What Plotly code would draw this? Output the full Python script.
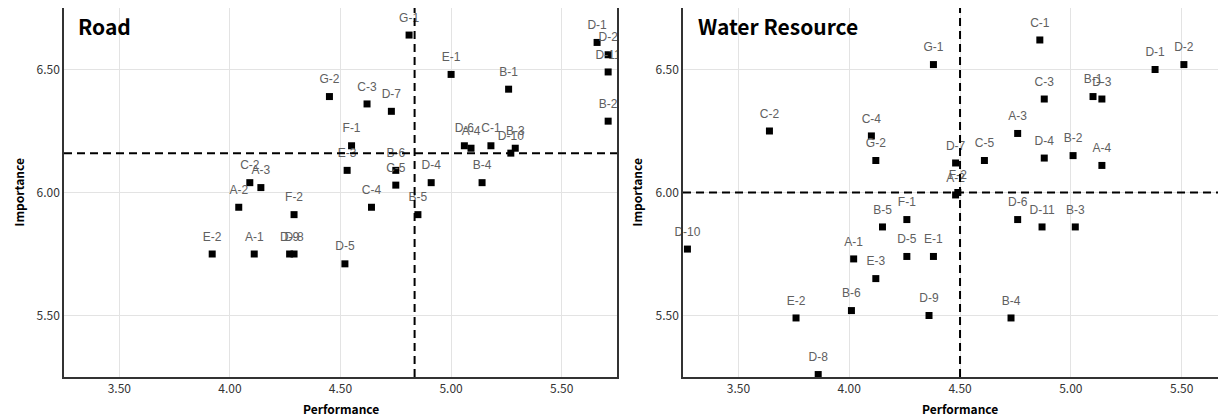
import plotly.graph_objects as go

# ---------------- Road ----------------
road_labels = ["A-1", "A-2", "A-3", "A-4",
               "B-1", "B-2", "B-3", "B-4", "B-5", "B-6",
               "C-1", "C-2", "C-3", "C-4", "C-5",
               "D-1", "D-2", "D-4", "D-5", "D-6", "D-7", "D-8", "D-9", "D-10", "D-11",
               "E-1", "E-2", "E-3", "F-1", "F-2", "G-1", "G-2"]
road_perf = [4.11, 4.04, 4.14, 5.09,
             5.26, 5.71, 5.29, 5.14, 4.85, 4.75,
             5.18, 4.09, 4.62, 4.64, 4.75,
             5.66, 5.71, 4.91, 4.52, 5.06, 4.73, 4.29, 4.27, 5.27, 5.71,
             5.00, 3.92, 4.53, 4.55, 4.29, 4.81, 4.45]
road_imp = [5.75, 5.94, 6.02, 6.18,
            6.42, 6.29, 6.18, 6.04, 5.91, 6.09,
            6.19, 6.04, 6.36, 5.94, 6.03,
            6.61, 6.56, 6.04, 5.71, 6.19, 6.33, 5.75, 5.75, 6.16, 6.49,
            6.48, 5.75, 6.09, 6.19, 5.91, 6.64, 6.39]
road_mean_perf = 4.835
road_mean_imp = 6.16

# ---------------- Water Resource ----------------
water_labels = ["A-1", "A-2", "A-3", "A-4",
                "B-1", "B-2", "B-3", "B-4", "B-5", "B-6",
                "C-1", "C-2", "C-3", "C-4", "C-5",
                "D-1", "D-2", "D-3", "D-4", "D-5", "D-6", "D-7", "D-8", "D-9", "D-10", "D-11",
                "E-1", "E-2", "E-3", "F-1", "F-2", "G-1", "G-2"]
water_perf = [4.02, 4.48, 4.76, 5.14,
              5.10, 5.01, 5.02, 4.73, 4.15, 4.01,
              4.86, 3.64, 4.88, 4.10, 4.61,
              5.38, 5.51, 5.14, 4.88, 4.26, 4.76, 4.48, 3.86, 4.36, 3.27, 4.87,
              4.38, 3.76, 4.12, 4.26, 4.49, 4.38, 4.12]
water_imp = [5.73, 5.99, 6.24, 6.11,
             6.39, 6.15, 5.86, 5.49, 5.86, 5.52,
             6.62, 6.25, 6.38, 6.23, 6.13,
             6.50, 6.52, 6.38, 6.14, 5.74, 5.89, 6.12, 5.26, 5.50, 5.77, 5.86,
             5.74, 5.49, 5.65, 5.89, 6.00, 6.52, 6.13]
water_mean_perf = 4.50
water_mean_imp = 6.00

x_ticks = [3.5, 4.0, 4.5, 5.0, 5.5]
y_ticks = [5.5, 6.0, 6.5]

# the page body adds an 8px margin, so the figure is drawn 8px smaller
W, H = 1218, 409
FONT = "Noto Sans CJK KR"
LABEL_FONT = "Liberation Sans"

fig = go.Figure()

def add_panel(xref, yref, labels, xs, ys, clip_text):
    fig.add_trace(go.Scatter(
        x=xs, y=ys, mode="markers",
        marker=dict(symbol="square", size=7, color="black"),
        xaxis=xref, yaxis=yref, showlegend=False, cliponaxis=True,
        hoverinfo="skip"))
    fig.add_trace(go.Scatter(
        x=xs, y=ys, text=labels, mode="markers+text",
        textposition="top center",
        textfont=dict(family=LABEL_FONT, size=12, color="#606060"),
        marker=dict(symbol="square", size=15, color="rgba(0,0,0,0)"),
        xaxis=xref, yaxis=yref, showlegend=False, cliponaxis=clip_text,
        hoverinfo="skip"))

add_panel("x", "y", road_labels, road_perf, road_imp, True)
add_panel("x2", "y2", water_labels, water_perf, water_imp, False)

dash_line = dict(color="black", width=2, dash="8px,5px")
fig.add_shape(type="line", xref="x", yref="y domain", x0=road_mean_perf, x1=road_mean_perf, y0=0, y1=1, line=dash_line)
fig.add_shape(type="line", xref="x domain", yref="y", x0=0, x1=1, y0=road_mean_imp, y1=road_mean_imp, line=dash_line)
fig.add_shape(type="line", xref="x2", yref="y2 domain", x0=water_mean_perf, x1=water_mean_perf, y0=0, y1=1, line=dash_line)
fig.add_shape(type="line", xref="x2 domain", yref="y2", x0=0, x1=1, y0=water_mean_imp, y1=water_mean_imp, line=dash_line)

common_x = dict(tickvals=x_ticks, ticktext=[f"{v:.2f}" for v in x_ticks],
                showgrid=True, gridcolor="#e3e3e3", gridwidth=1, zeroline=False,
                showline=True, linecolor="#333333", linewidth=1.5,
                ticks="", tickfont=dict(family=FONT, size=12, color="#333333"),
                automargin=False)
common_y = dict(tickvals=y_ticks, ticktext=[f"{v:.2f}" for v in y_ticks],
                showgrid=True, gridcolor="#e3e3e3", gridwidth=1, zeroline=False,
                showline=True, linecolor="#333333", linewidth=1.5,
                ticks="", tickfont=dict(family=FONT, size=12, color="#333333"),
                automargin=False, range=[5.25, 6.75])

fig.update_layout(
    width=W, height=H,
    margin=dict(l=0, r=0, t=0, b=40),
    paper_bgcolor="white", plot_bgcolor="white",
    xaxis=dict(common_x, domain=[56 / W, 609 / W], range=[3.25, 5.75], anchor="y", mirror=True),
    yaxis=dict(common_y, domain=[0, 1], anchor="x", mirror=True),
    xaxis2=dict(common_x, domain=[675 / W, 1.0], range=[3.25, 5.70], anchor="y2", mirror=True),
    yaxis2=dict(common_y, domain=[0, 1], anchor="x2"),
)

ann = []
ann.append(dict(text="<b>Road</b>", xref="paper", yref="paper", x=68 / W, y=1, xanchor="left",
                yanchor="top", yshift=-1, showarrow=False, font=dict(family=FONT, size=21, color="black")))
ann.append(dict(text="<b>Water Resource</b>", xref="paper", yref="paper", x=688 / W, y=1, xanchor="left",
                yanchor="top", yshift=-1, showarrow=False, font=dict(family=FONT, size=21, color="black")))
for cx in (333, 952):
    ann.append(dict(text="<b>Performance</b>", xref="paper", yref="paper", x=cx / W, y=0, yshift=-31,
                    xanchor="center", yanchor="middle", showarrow=False,
                    font=dict(family=FONT, size=12, color="black")))
for cx in (10, 628):
    ann.append(dict(text="<b>Importance</b>", xref="paper", yref="paper", x=cx / W, y=0.5,
                    xanchor="center", yanchor="middle", textangle=-90, showarrow=False,
                    font=dict(family=FONT, size=12, color="black")))
fig.update_layout(annotations=ann)

fig.write_html("out.html")
